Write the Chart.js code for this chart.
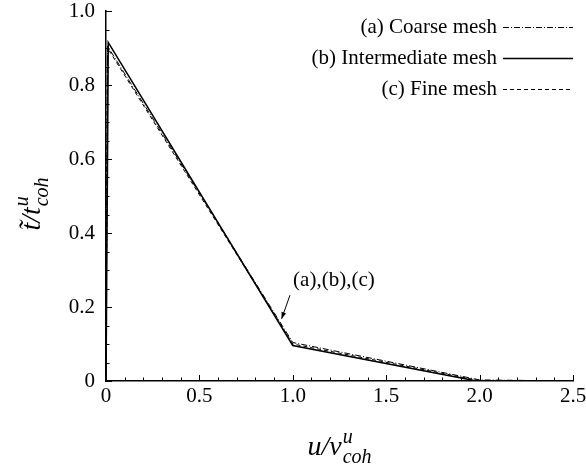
<!DOCTYPE html>
<html>
<head>
<meta charset="utf-8">
<script src="https://cdn.jsdelivr.net/npm/chart.js@4.4.1/dist/chart.umd.min.js"></script>
<style>
  html, body { margin: 0; padding: 0; background: #fff; }
  #wrap { width: 586px; height: 466px; }
</style>
</head>
<body>
<div id="wrap"><canvas id="chart"></canvas></div>
<script>
// values
const coarseX = [0, 0.008, 1.0, 2.0, 2.5];
const coarseY = [0, 0.905, 0.104, 0.003, 0];
const interX  = [0, 0.012, 1.0, 1.985, 2.5];
const interY  = [0, 0.915, 0.096, 0, 0];
const fineX   = [0, 0.008, 1.0, 2.0, 2.5];
const fineY   = [0, 0.900, 0.100, 0.001, 0];

const seriesLabels = ['(a) Coarse mesh', '(b) Intermediate mesh', '(c) Fine mesh'];
const xTickLabels = ['0', '0.5', '1.0', '1.5', '2.0', '2.5'];
const yTickLabels = ['0', '0.2', '0.4', '0.6', '0.8', '1.0'];

// annotation "(a),(b),(c)" with arrow, data coordinates
const noteText = '(a),(b),(c)';
const noteAt = [1.22, 0.272];
const arrowFrom = [0.985, 0.232];
const arrowTo = [0.94, 0.168];

const SERIF = '"Liberation Serif", "DejaVu Serif", Times, serif';
const FS = 21;

const pts = (xs, ys) => xs.map((x, i) => ({ x: x, y: ys[i] }));

// inward tick marks (major + minor), like the original plot
const tickMarks = {
  id: 'tickMarks',
  afterDraw(chart) {
    const ctx = chart.ctx;
    const { x, y } = chart.scales;
    const area = chart.chartArea;
    ctx.save();
    ctx.strokeStyle = '#000';
    ctx.lineWidth = 1;
    x.ticks.forEach(t => {
      const px = Math.round(x.getPixelForValue(t.value)) + 0.5;
      const len = t.label ? 6 : 3.5;
      ctx.beginPath();
      ctx.moveTo(px, area.bottom);
      ctx.lineTo(px, area.bottom - len);
      ctx.stroke();
    });
    y.ticks.forEach(t => {
      const py = Math.round(y.getPixelForValue(t.value)) + 0.5;
      const len = t.label ? 6 : 3.5;
      ctx.beginPath();
      ctx.moveTo(area.left, py);
      ctx.lineTo(area.left + len, py);
      ctx.stroke();
    });
    ctx.restore();
  }
};

// draws base text followed by a stacked superscript / subscript
function mathWidth(ctx, base, sup, sub, size) {
  ctx.font = 'italic ' + size + 'px ' + SERIF;
  const wb = ctx.measureText(base).width;
  ctx.font = 'italic ' + Math.round(size * 0.7) + 'px ' + SERIF;
  return wb + 1 + Math.max(ctx.measureText(sup).width, ctx.measureText(sub).width);
}
function drawMath(ctx, base, sup, sub, size, cx, cy) {
  const w = mathWidth(ctx, base, sup, sub, size);
  let x0 = cx - w / 2;
  ctx.textBaseline = 'alphabetic';
  ctx.textAlign = 'left';
  ctx.font = 'italic ' + size + 'px ' + SERIF;
  ctx.fillText(base, x0, cy);
  x0 += ctx.measureText(base).width + 1;
  ctx.font = 'italic ' + Math.round(size * 0.7) + 'px ' + SERIF;
  ctx.fillText(sup, x0, cy - size * 0.42);
  ctx.fillText(sub, x0, cy + size * 0.28);
}

const extras = {
  id: 'extras',
  afterDraw(chart) {
    const ctx = chart.ctx;
    const { x, y } = chart.scales;
    const area = chart.chartArea;
    ctx.save();
    ctx.fillStyle = '#000';

    // axis titles
    drawMath(ctx, 'u/v', 'u', 'coh', 28, (area.left + area.right) / 2, 455);
    ctx.save();
    ctx.translate(40, 204);
    ctx.rotate(-Math.PI / 2);
    drawMath(ctx, 't\u0303/t', 'u', 'coh', 28, 0, 0);
    ctx.restore();

    // legend: right-aligned labels, line sample on the right
    const rowsY = [27, 58, 89];
    const sampleL = 503, sampleR = 573;
    chart.data.datasets.forEach((ds, i) => {
      ctx.font = FS + 'px ' + SERIF;
      ctx.textAlign = 'right';
      ctx.textBaseline = 'middle';
      ctx.fillStyle = '#000';
      ctx.fillText(ds.label, sampleL - 6, rowsY[i]);
      ctx.beginPath();
      ctx.setLineDash(ds.borderDash || []);
      ctx.lineWidth = ds.borderWidth;
      ctx.strokeStyle = ds.borderColor;
      ctx.moveTo(sampleL, rowsY[i] + 0.5);
      ctx.lineTo(sampleR, rowsY[i] + 0.5);
      ctx.stroke();
      ctx.setLineDash([]);
    });

    // annotation with arrow
    ctx.font = FS + 'px ' + SERIF;
    ctx.textAlign = 'center';
    ctx.textBaseline = 'middle';
    ctx.fillText(noteText, x.getPixelForValue(noteAt[0]), y.getPixelForValue(noteAt[1]));
    const ax0 = x.getPixelForValue(arrowFrom[0]), ay0 = y.getPixelForValue(arrowFrom[1]);
    const ax1 = x.getPixelForValue(arrowTo[0]), ay1 = y.getPixelForValue(arrowTo[1]);
    ctx.strokeStyle = '#000';
    ctx.lineWidth = 1;
    ctx.beginPath();
    ctx.moveTo(ax0, ay0);
    ctx.lineTo(ax1, ay1);
    ctx.stroke();
    const ang = Math.atan2(ay1 - ay0, ax1 - ax0);
    ctx.beginPath();
    ctx.moveTo(ax1, ay1);
    ctx.lineTo(ax1 - 7 * Math.cos(ang - 0.35), ay1 - 7 * Math.sin(ang - 0.35));
    ctx.lineTo(ax1 - 7 * Math.cos(ang + 0.35), ay1 - 7 * Math.sin(ang + 0.35));
    ctx.closePath();
    ctx.fill();
    ctx.restore();
  }
};

function majorLabel(v, step, labels) {
  const k = v / step;
  return Math.abs(k - Math.round(k)) < 1e-6 ? labels[Math.round(k)] : '';
}

const lineDefaults = { fill: false, tension: 0, pointRadius: 0, borderColor: '#000' };

new Chart(document.getElementById('chart').getContext('2d'), {
  type: 'line',
  data: {
    datasets: [
      { ...lineDefaults, label: seriesLabels[0], data: pts(coarseX, coarseY), borderWidth: 1, borderDash: [6, 2, 1, 2] },
      { ...lineDefaults, label: seriesLabels[1], data: pts(interX, interY), borderWidth: 1.6 },
      { ...lineDefaults, label: seriesLabels[2], data: pts(fineX, fineY), borderWidth: 1, borderDash: [4, 3] }
    ]
  },
  options: {
    responsive: true,
    maintainAspectRatio: false,
    animation: false,
    layout: { padding: { top: 11, right: 13, left: 0, bottom: 0 } },
    plugins: { legend: { display: false }, tooltip: { enabled: false } },
    scales: {
      x: {
        type: 'linear',
        min: 0, max: 2.5,
        afterFit: s => { s.height = 85; s.paddingLeft = 0; s.paddingRight = 0; },
        grid: { display: false, drawTicks: false },
        border: { display: true, color: '#000', width: 1.5 },
        ticks: {
          stepSize: 0.1,
          autoSkip: false,
          maxRotation: 0,
          padding: 3,
          color: '#000',
          font: { family: SERIF, size: FS },
          callback: v => majorLabel(v, 0.5, xTickLabels)
        }
      },
      y: {
        min: 0, max: 1.0,
        afterFit: s => { s.width = 106; s.paddingTop = 0; s.paddingBottom = 0; },
        grid: { display: false, drawTicks: false },
        border: { display: true, color: '#000', width: 1.5 },
        ticks: {
          stepSize: 0.05,
          autoSkip: false,
          padding: 11,
          color: '#000',
          font: { family: SERIF, size: FS },
          callback: v => majorLabel(v, 0.2, yTickLabels)
        }
      }
    }
  },
  plugins: [tickMarks, extras]
});
</script>
</body>
</html>
